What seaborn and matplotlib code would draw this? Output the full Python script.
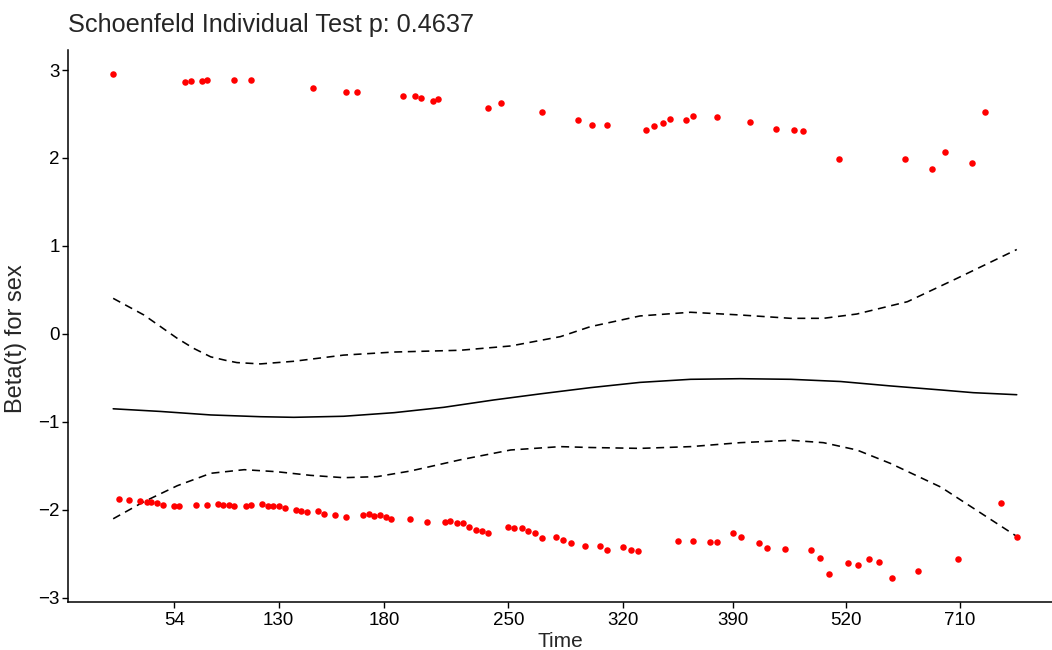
import matplotlib
matplotlib.use('Agg')
import matplotlib.pyplot as plt
import seaborn as sns
import pandas as pd

# x is the km-transformed time (0..1), y is the scaled Schoenfeld residual
top_x = [0.000, 0.079, 0.086, 0.098, 0.104, 0.134, 0.153, 0.221, 0.258, 0.270,
         0.321, 0.334, 0.341, 0.354, 0.360, 0.415, 0.429, 0.475, 0.514, 0.530,
         0.547, 0.590, 0.599, 0.608, 0.616, 0.634, 0.642, 0.668, 0.705, 0.734,
         0.753, 0.763, 0.803, 0.876, 0.906, 0.921, 0.950, 0.965]
top_y = [2.95, 2.86, 2.87, 2.88, 2.89, 2.89, 2.89, 2.80, 2.75, 2.75,
         2.71, 2.70, 2.68, 2.65, 2.67, 2.57, 2.62, 2.52, 2.43, 2.38,
         2.38, 2.32, 2.36, 2.40, 2.44, 2.43, 2.48, 2.47, 2.41, 2.33,
         2.32, 2.31, 1.99, 1.99, 1.88, 2.07, 1.94, 2.52]

bot_x = [0.006, 0.018, 0.030, 0.037, 0.042, 0.049, 0.055, 0.067, 0.073, 0.092,
         0.104, 0.116, 0.122, 0.128, 0.134, 0.147, 0.153, 0.165, 0.171, 0.177,
         0.184, 0.190, 0.202, 0.208, 0.215, 0.227, 0.233, 0.246, 0.258, 0.276,
         0.283, 0.289, 0.295, 0.302, 0.308, 0.328, 0.347, 0.367, 0.373, 0.380,
         0.387, 0.394, 0.401, 0.408, 0.415, 0.437, 0.444, 0.452, 0.459, 0.467,
         0.475, 0.490, 0.498, 0.507, 0.522, 0.539, 0.547, 0.564, 0.573, 0.581,
         0.625, 0.642, 0.660, 0.668, 0.686, 0.695, 0.715, 0.724, 0.743, 0.772,
         0.782, 0.792, 0.813, 0.824, 0.836, 0.848, 0.862, 0.891, 0.935, 0.983,
         1.000]
bot_y = [-1.87, -1.89, -1.90, -1.905, -1.91, -1.92, -1.94, -1.95, -1.96, -1.94,
         -1.94, -1.935, -1.94, -1.94, -1.95, -1.95, -1.94, -1.935, -1.95, -1.95,
         -1.96, -1.98, -2.00, -2.01, -2.02, -2.015, -2.04, -2.06, -2.08, -2.06,
         -2.05, -2.07, -2.06, -2.08, -2.10, -2.10, -2.14, -2.14, -2.13, -2.15,
         -2.15, -2.19, -2.23, -2.24, -2.26, -2.19, -2.21, -2.21, -2.235, -2.26,
         -2.32, -2.31, -2.34, -2.37, -2.41, -2.41, -2.45, -2.42, -2.46, -2.47,
         -2.35, -2.35, -2.36, -2.36, -2.26, -2.31, -2.37, -2.43, -2.44, -2.455,
         -2.54, -2.73, -2.60, -2.63, -2.555, -2.59, -2.77, -2.69, -2.56, -1.92,
         -2.31]

# fitted beta(t) and its confidence band
fit_x = [0.0, 0.052, 0.108, 0.163, 0.200, 0.255, 0.311, 0.366, 0.421, 0.473,
         0.528, 0.583, 0.639, 0.694, 0.750, 0.805, 0.860, 0.916, 0.952, 1.0]
fit_y = [-0.85, -0.88, -0.92, -0.94, -0.947, -0.935, -0.894, -0.833, -0.75, -0.68,
         -0.61, -0.55, -0.515, -0.508, -0.515, -0.54, -0.59, -0.636, -0.667, -0.69]

up_x = [0.0, 0.034, 0.071, 0.089, 0.108, 0.126, 0.137, 0.163, 0.200, 0.255,
        0.311, 0.384, 0.440, 0.495, 0.528, 0.583, 0.639, 0.694, 0.750, 0.786,
        0.823, 0.879, 0.934, 1.0]
up_y = [0.405, 0.216, -0.05, -0.163, -0.26, -0.303, -0.325, -0.34, -0.31, -0.24,
        -0.205, -0.185, -0.136, -0.03, 0.083, 0.205, 0.247, 0.216, 0.178, 0.178,
        0.227, 0.367, 0.633, 0.96]

lo_x = [0.0, 0.034, 0.071, 0.108, 0.145, 0.181, 0.218, 0.255, 0.292, 0.329,
        0.384, 0.440, 0.495, 0.528, 0.583, 0.639, 0.694, 0.750, 0.786, 0.823,
        0.860, 0.916, 0.952, 1.0]
lo_y = [-2.10, -1.906, -1.724, -1.583, -1.542, -1.565, -1.606, -1.633, -1.621, -1.557,
        -1.43, -1.318, -1.28, -1.29, -1.30, -1.28, -1.235, -1.208, -1.235, -1.318,
        -1.47, -1.74, -1.98, -2.30]

tick_pos = [0.0675, 0.183, 0.300, 0.4375, 0.564, 0.686, 0.8115, 0.937]
tick_lab = ['54', '130', '180', '250', '320', '390', '520', '710']

resid = pd.DataFrame({'x': top_x + bot_x, 'y': top_y + bot_y})

sns.set_theme(style='ticks')
plt.rcParams['font.family'] = ['Liberation Sans', 'DejaVu Sans']

fig = plt.figure(figsize=(10.52, 6.5), dpi=100)
ax = fig.add_axes([68/1052, 48.5/650, 1 - 68/1052, 552/650])

sns.scatterplot(data=resid, x='x', y='y', color='#FF0000', s=22, linewidth=0, ax=ax, zorder=3)
sns.lineplot(x=fit_x, y=fit_y, color='black', linewidth=1.15, ax=ax)
sns.lineplot(x=up_x, y=up_y, color='black', linewidth=1.15, linestyle=(0, (5, 3.5)), ax=ax)
sns.lineplot(x=lo_x, y=lo_y, color='black', linewidth=1.15, linestyle=(0, (5, 3.5)), ax=ax)

ax.set_xlim(-0.05, 1.039)
ax.set_ylim(-3.04, 3.233)
ax.set_xticks(tick_pos)
ax.set_xticklabels(tick_lab)
ax.set_yticks([-3, -2, -1, 0, 1, 2, 3])
ax.set_yticklabels(['\u22123', '\u22122', '\u22121', '0', '1', '2', '3'])
ax.tick_params(axis='both', labelsize=13.5, length=4, width=1.0, color='black', labelcolor='black')
ax.tick_params(axis='x', pad=3.5)
ax.tick_params(axis='y', pad=2)

for side in ['top', 'right']:
    ax.spines[side].set_visible(False)
for side in ['left', 'bottom']:
    ax.spines[side].set_color('black')
    ax.spines[side].set_linewidth(1.1)

ax.set_xlabel('Time', fontsize=15, labelpad=2)
ax.set_ylabel('Beta(t) for sex', fontsize=17)
ax.yaxis.set_label_coords(-0.0415, 0.4755)
ax.set_title('Schoenfeld Individual Test p: 0.4637', loc='left', fontsize=18.2, pad=12.5)

plt.savefig('out.png', dpi=100)
